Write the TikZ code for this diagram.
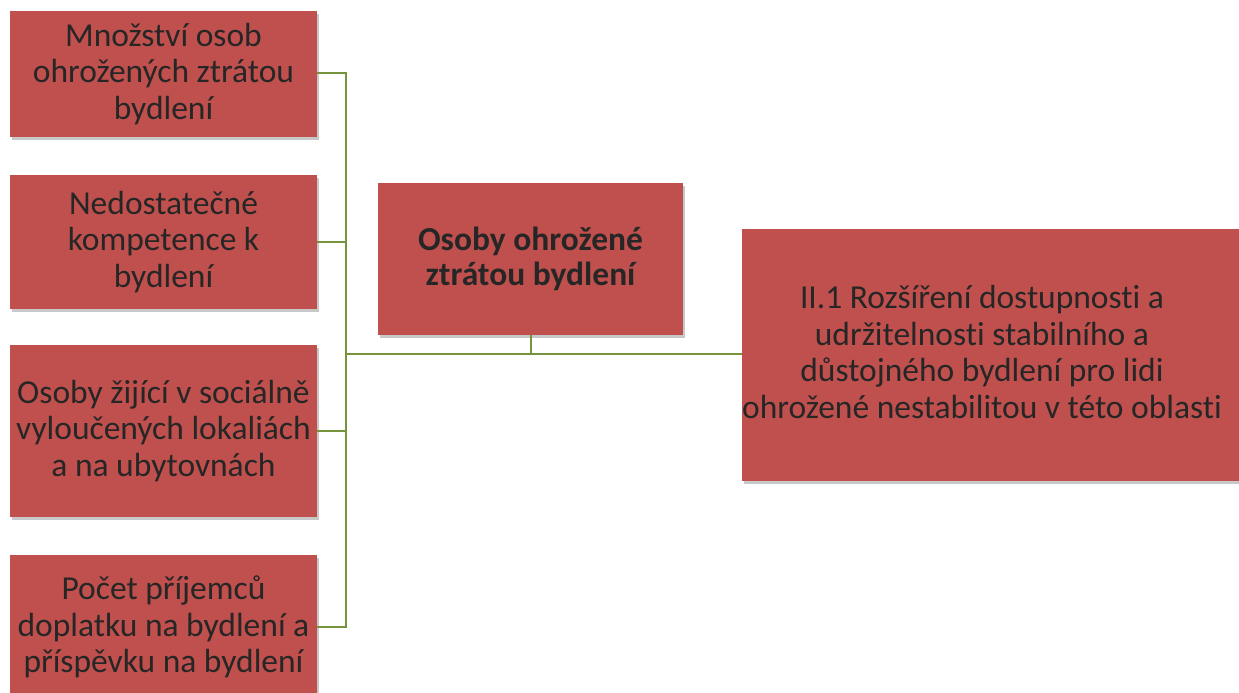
\documentclass[tikz,border=0pt]{standalone}
\usepackage{fontspec}
\setmainfont[Ligatures={NoCommon,NoRare,NoContextual}]{Carlito}
\usetikzlibrary{shadows}
\definecolor{boxred}{HTML}{C0504D}
\definecolor{linegreen}{HTML}{77933C}
\definecolor{txt}{HTML}{262626}
\tikzset{
  redbox/.style={rectangle, fill=boxred, inner sep=0pt, text=txt,
    align=center, font=\fontsize{33.5pt}{36.5pt}\selectfont,
    drop shadow={shadow xshift=2pt, shadow yshift=-3pt, opacity=0.3, fill=black!70}},
  plaintext/.style={inner sep=0pt, text=txt, align=center,
    font=\fontsize{33.5pt}{36.5pt}\selectfont},
  conn/.style={draw=linegreen, line width=2pt}
}
\begin{document}
\begin{tikzpicture}[x=1pt, y=-1pt]
\useasboundingbox (0,0) rectangle (1239,693);
\fill[white] (0,0) rectangle (1239,693);
\begin{scope}
\clip (0,0) rectangle (1239,693);
\node[redbox, minimum width=307pt, minimum height=126pt] (b1) at (163.5,74)
  {Množství osob\\ohrožených ztrátou\\bydlení};
\node[redbox, minimum width=307pt, minimum height=134pt] (b2) at (163.5,242)
  {Nedostatečné\\kompetence k\\bydlení};
\node[redbox, minimum width=307pt, minimum height=172pt] (b3) at (163.5,431)
  {Osoby žijící v sociálně\\vyloučených lokaliách\\a na ubytovnách};
\node[redbox, minimum width=307pt, minimum height=144pt] (b4) at (163.5,627)
  {Počet příjemců\\doplatku na bydlení a\\příspěvku na bydlení};
\node[redbox, minimum width=305pt, minimum height=152pt, font=\fontsize{33.5pt}{35pt}\selectfont\bfseries] (mid) at (530.5,259)
  {Osoby ohrožené\\ztrátou bydlení};
\node[redbox, minimum width=520pt, minimum height=252pt] (goalbox) at (1002,355) {};
\node[plaintext] (goal) at (982,352)
  {II.1 Rozšíření dostupnosti a\\udržitelnosti stabilního a\\důstojného bydlení pro lidi\\ohrožené nestabilitou v této oblasti};
\end{scope}
\coordinate (bt) at (346,73);
\coordinate (bb) at (346,627);
\coordinate (bm) at (346,354);
\draw[conn] (b1.east |- bt) -- (bt) -- (bb) -- (b4.east);
\draw[conn] (b2.east) -- (b2.east -| bt);
\draw[conn] (b3.east) -- (b3.east -| bt);
\draw[conn] (bm) -- (goalbox.west |- bm);
\draw[conn] (mid.south) -- (mid.south |- bm);
\end{tikzpicture}
\end{document}
